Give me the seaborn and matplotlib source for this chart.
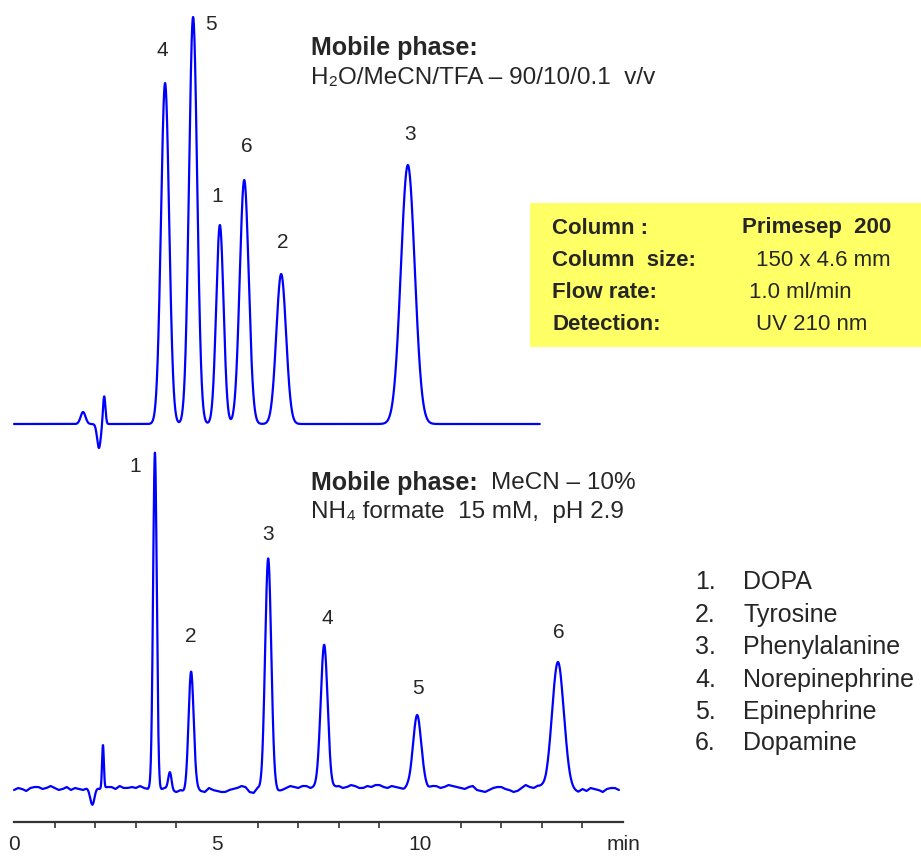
import numpy as np
import pandas as pd
import matplotlib
matplotlib.use("Agg")
import matplotlib.pyplot as plt
import seaborn as sns
from matplotlib.patches import Rectangle

# ---------------- data ----------------
# Upper chromatogram: H2O/MeCN/TFA 90/10/0.1
top_peak_ids = ["4", "5", "1", "6", "2", "3"]
top_peak_rt = [3.72, 4.41, 5.07, 5.67, 6.58, 9.70]          # min
top_peak_height = [341, 407, 199, 244, 150, 259]            # signal units
top_peak_sigma = [0.10, 0.10, 0.09, 0.11, 0.12, 0.17]       # min
top_sys_rt = [1.70, 2.09, 2.22]                               # injection disturbance
top_sys_height = [12, -24, 28]
top_sys_sigma = [0.06, 0.045, 0.03]
top_end = 12.95

# Lower chromatogram: MeCN 10%, NH4 formate 15 mM pH 2.9
bot_peak_ids = ["1", "2", "3", "4", "5", "6"]
bot_peak_rt = [3.47, 4.36, 6.26, 7.64, 9.93, 13.40]
bot_peak_height = [334, 119, 229, 144, 75, 126]
bot_peak_sigma = [0.045, 0.063, 0.075, 0.085, 0.10, 0.145]
bot_sys_rt = [1.93, 2.19, 3.84]
bot_sys_height = [-18, 43, 17]
bot_sys_sigma = [0.055, 0.022, 0.04]
bot_end = 14.9
# baseline noise of lower trace, every 0.1 min from 0 to 15
bot_noise = [-1, 1, 0, -2, 1, 2, 2, 0, 1, 3,
             1, -1, 0, 2, -1, 1, 0, -1, 1, 2,
             3, 0, 1, 2, 2, 0, 3, 1, 1, 2,
             1, 3, 1, 0, 3, 2, -1, 1, 1, -2,
             -3, -1, -3, -4, 0, 1, -2, -3, 1, -1,
             -2, -3, -3, -1, 0, 1, 3, 2, -3, -4,
             1, -1, 1, 2, 0, -2, -1, 1, 3, 2,
             1, 3, 3, 1, 2, 3, 1, -1, -1, 2,
             3, 1, 2, 4, 3, 1, 1, 3, 2, 4,
             4, 2, 1, 3, 2, 1, 0, 2, 1, -1,
             -1, 2, 1, 3, 3, 1, 2, 4, 3, 2,
             1, 0, 2, 3, -1, -2, -3, -1, 1, 2,
             2, 0, -1, -3, -2, 1, 4, 2, 1, 3,
             2, 0, 1, 2, 1, -1, 0, -1, -2, -3,
             0, -2, 1, 0, -1, -3, 0, 1, 1, -1,
             0]
noise_step = 0.1

x_ticks = [0, 5, 10, 15]
x_tick_labels = ["0", "5", "10", "min"]

analytes = ["DOPA", "Tyrosine", "Phenylalanine", "Norepinephrine",
            "Epinephrine", "Dopamine"]

# ---------------- styling / layout ----------------
W, H = 921, 856
TOP_OFFSET = 365          # vertical offset of the upper trace
BLUE = "#0000FF"

sns.set_style("white")
plt.rcParams["font.family"] = ["Liberation Sans", "DejaVu Sans"]


def trace(t, rts, hs, sigmas):
    y = np.zeros_like(t)
    for r, h, s in zip(rts, hs, sigmas):
        y += h * np.exp(-0.5 * ((t - r) / s) ** 2)
    return y


t_top = np.linspace(0, top_end, 4000)
y_top = trace(t_top, top_peak_rt + top_sys_rt,
              top_peak_height + top_sys_height,
              top_peak_sigma + top_sys_sigma) + TOP_OFFSET

t_bot = np.linspace(0, bot_end, 5000)
noise_t = np.arange(len(bot_noise)) * noise_step
y_bot = trace(t_bot, bot_peak_rt + bot_sys_rt,
              bot_peak_height + bot_sys_height,
              bot_peak_sigma + bot_sys_sigma) + np.interp(t_bot, noise_t, bot_noise)

df = pd.concat([
    pd.DataFrame({"time": t_top, "signal": y_top, "run": "TFA"}),
    pd.DataFrame({"time": t_bot, "signal": y_bot, "run": "formate"}),
])

fig = plt.figure(figsize=(W / 100, H / 100), dpi=100)
ax = fig.add_axes([10 / W, (H - 822) / H, 613 / W, 822 / H])

sns.lineplot(data=df, x="time", y="signal", units="run", estimator=None,
             sort=False, color=BLUE, linewidth=1.6, ax=ax, legend=False)

ax.set_xlim(-0.1, 15.0)
ax.set_ylim(-33, 789)
for s in ["top", "left", "right"]:
    ax.spines[s].set_visible(False)
ax.spines["bottom"].set_bounds(0, 15)
ax.spines["bottom"].set_color("#333333")
ax.spines["bottom"].set_linewidth(1.6)
ax.set_yticks([])
ax.set_xticks(x_ticks)
ax.set_xticklabels(x_tick_labels)
ax.set_xticks(np.arange(0, 16, 1), minor=True)
ax.tick_params(axis="x", which="major", direction="out", length=8, width=1.2,
               color="#333333", labelsize=15, pad=1.5)
ax.tick_params(axis="x", which="minor", direction="out", length=4, width=1.2,
               color="#333333", bottom=True)
ax.set_xlabel("")
ax.set_ylabel("")
ax.patch.set_alpha(0)

# peak labels (pixel offsets from apex)
top_lbl_off = [(-3, 33), (18, -8), (-3, 29), (3, 33), (2, 32), (2, 31)]
bot_lbl_off = [(-20, -12), (0, 34), (0, 26), (3, 27), (1, 25), (1, 30)]
for pid, r, h, off in zip(top_peak_ids, top_peak_rt, top_peak_height, top_lbl_off):
    ax.annotate(pid, (r, h + TOP_OFFSET), xytext=off, textcoords="offset pixels",
                ha="center", va="center", fontsize=15)
for pid, r, h, off in zip(bot_peak_ids, bot_peak_rt, bot_peak_height, bot_lbl_off):
    ax.annotate(pid, (r, h), xytext=off, textcoords="offset pixels",
                ha="center", va="center", fontsize=15)


def fx(x):
    return x / W


def fy(y):
    return 1 - y / H


# mobile phase texts
fig.text(fx(311), fy(48), "Mobile phase:", fontsize=18, fontweight="bold", va="center")
fig.text(fx(311), fy(78), "H₂O/MeCN/TFA – 90/10/0.1  v/v", fontsize=17.5, va="center")
fig.text(fx(311), fy(483), "Mobile phase:", fontsize=18, fontweight="bold", va="center")
fig.text(fx(491), fy(483), "MeCN – 10%", fontsize=17.5, va="center")
fig.text(fx(311), fy(512), "NH₄ formate  15 mM,  pH 2.9", fontsize=17.5, va="center")

# yellow info box
fig.patches.append(Rectangle((fx(530), fy(347)), (W - 530) / W, (347 - 203) / H,
                             transform=fig.transFigure, facecolor="#FFFF66",
                             edgecolor="none", zorder=0))
box_rows = [228, 260, 293, 325]
BFS = 16
fig.text(fx(552), fy(box_rows[0]), "Column :", fontsize=BFS, fontweight="bold", va="center")
fig.text(fx(891), fy(box_rows[0]), "Primesep  200", fontsize=BFS, fontweight="bold",
         va="center", ha="right")
fig.text(fx(552), fy(box_rows[1]), "Column  size:", fontsize=BFS, fontweight="bold", va="center")
fig.text(fx(891), fy(box_rows[1]), "150 x 4.6 mm", fontsize=BFS, va="center", ha="right")
fig.text(fx(552), fy(box_rows[2]), "Flow rate:", fontsize=BFS, fontweight="bold", va="center")
fig.text(fx(800), fy(box_rows[2]), "1.0 ml/min", fontsize=BFS, va="center", ha="center")
fig.text(fx(552), fy(box_rows[3]), "Detection:", fontsize=BFS, fontweight="bold", va="center")
fig.text(fx(812), fy(box_rows[3]), "UV 210 nm", fontsize=BFS, va="center", ha="center")

# analyte list
list_rows = [582, 615, 647, 680, 712, 743]
for i, (name, yy) in enumerate(zip(analytes, list_rows)):
    fig.text(fx(695), fy(yy), f"{i + 1}.", fontsize=18, va="center")
    fig.text(fx(743), fy(yy), name, fontsize=18, va="center")

fig.savefig("out.png", dpi=100, facecolor="white")
